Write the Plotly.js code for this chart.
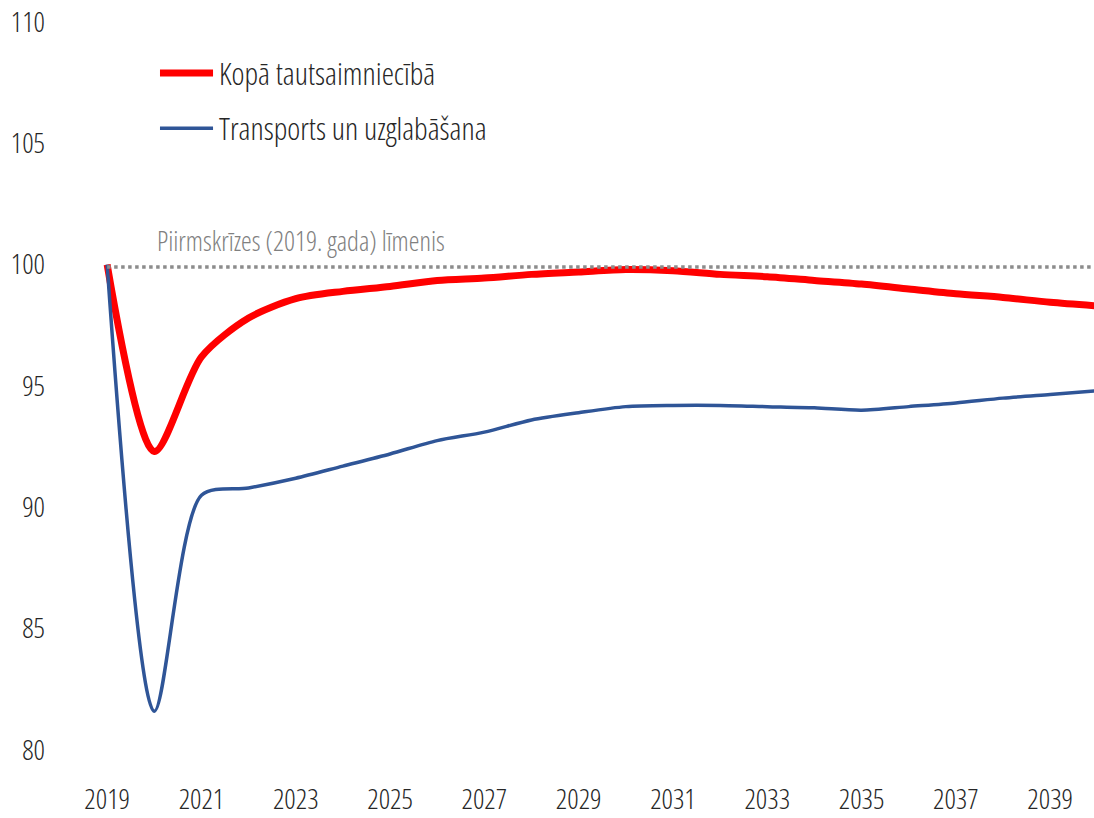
<!DOCTYPE html>
<html>
<head>
<meta charset="utf-8">
<script src="https://cdn.plot.ly/plotly-3.0.1.min.js"></script>
<style>
html,body{margin:0;padding:0;background:#fff;}
#chart{width:1094px;height:818px;}
svg text, svg tspan{font-stretch:condensed !important;}
</style>
</head>
<body>
<div id="chart"></div>
<script>
const years = [2019,2020,2021,2022,2023,2024,2025,2026,2027,2028,2029,2030,2031,2032,2033,2034,2035,2036,2037,2038,2039,2040];
const totalName = "Kopā tautsaimniecībā";
const totalValues = [100,92.3,96.2,97.8,98.6,98.9,99.1,99.35,99.45,99.6,99.7,99.8,99.75,99.6,99.5,99.35,99.2,99.0,98.8,98.65,98.45,98.3];
const transportName = "Transports un uzglabāšana";
const transportValues = [100,81.6,90.5,90.8,91.2,91.7,92.2,92.75,93.1,93.6,93.9,94.15,94.2,94.2,94.15,94.1,94.0,94.15,94.3,94.5,94.65,94.8];
const preCrisisLabel = "Piirmskrīzes (2019. gada) līmenis";
const preCrisisLevel = 99.9;
const yTicks = [80,85,90,95,100,105,110];
const xTicks = [2019,2021,2023,2025,2027,2029,2031,2033,2035,2037,2039];

const FONT = '"Open Sans", "Roboto Condensed", sans-serif';
const RED = '#FF0000', BLUE = '#2F5597', GRAY = '#8C8C8C';
const TXT = '#262626';
const W = 300;

const traces = [
  {x: years, y: totalValues, type: 'scatter', mode: 'lines', name: totalName,
   line: {color: RED, width: 7, shape: 'spline', smoothing: 0.8}},
  {x: years, y: transportValues, type: 'scatter', mode: 'lines', name: transportName,
   line: {color: BLUE, width: 3.5, shape: 'spline', smoothing: 0.8}},
  {x: years, y: years.map(() => preCrisisLevel), type: 'scatter', mode: 'lines', name: preCrisisLabel,
   line: {color: GRAY, width: 3.5, dash: 'dot'}}
];

const layout = {
  width: 1094, height: 818,
  margin: {l: 60, r: 0, t: 22, b: 68},
  paper_bgcolor: '#fff', plot_bgcolor: '#fff',
  showlegend: false,
  font: {family: FONT, size: 26, color: TXT, weight: W},
  xaxis: {range: [2018, 2039.93], tickvals: xTicks, ticktext: xTicks.map(String),
          showgrid: false, zeroline: false, showline: false, ticks: '',
          ticklabelstandoff: 30, tickfont: {family: FONT, size: 28, color: TXT, weight: W}},
  yaxis: {range: [80, 110], tickvals: yTicks, ticktext: yTicks.map(String),
          showgrid: false, zeroline: false, showline: false, ticks: '',
          ticklabelstandoff: 14, tickfont: {family: FONT, size: 28, color: TXT, weight: W}},
  shapes: [
    {type: 'line', xref: 'paper', yref: 'paper', x0: 0.0967, x1: 0.148, y0: 0.930, y1: 0.930,
     line: {color: RED, width: 7}},
    {type: 'line', xref: 'paper', yref: 'paper', x0: 0.0967, x1: 0.148, y0: 0.854, y1: 0.854,
     line: {color: BLUE, width: 3.5}}
  ],
  annotations: [
    {xref: 'paper', yref: 'paper', x: 0.1515, y: 0.930, xanchor: 'left', yanchor: 'middle',
     text: totalName, showarrow: false, font: {family: FONT, size: 31, color: TXT, weight: W}},
    {xref: 'paper', yref: 'paper', x: 0.1515, y: 0.854, xanchor: 'left', yanchor: 'middle',
     text: transportName, showarrow: false, font: {family: FONT, size: 31, color: TXT, weight: W}},
    {xref: 'paper', yref: 'y', x: 0.0915, y: 101.0, xanchor: 'left', yanchor: 'middle',
     text: preCrisisLabel, showarrow: false, font: {family: FONT, size: 27, color: '#808080', weight: W}}
  ]
};

Plotly.newPlot('chart', traces, layout, {displayModeBar: false, staticPlot: true});
</script>
</body>
</html>
